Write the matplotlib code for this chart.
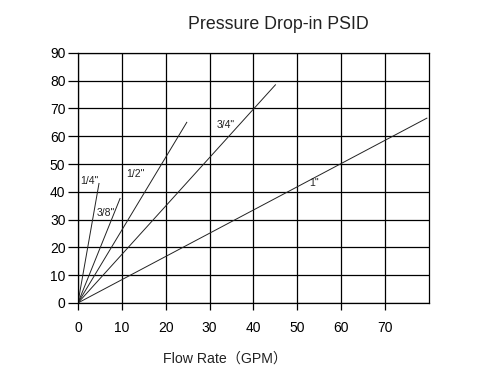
import matplotlib
matplotlib.use("Agg")
import matplotlib.pyplot as plt
import numpy as np

plt.rcParams['font.family'] = ['Liberation Sans', 'Noto Sans CJK SC', 'DejaVu Sans']

# pipe sizes, each line runs from origin to its end point
sizes = ['1/4"', '3/8"', '1/2"', '3/4"', '1"']
end_flow = [4.8, 9.6, 24.8, 45.0, 79.5]
end_psid = [43.0, 37.6, 65.0, 78.5, 66.5]
label_x = [2.5, 6.4, 13.1, 33.7, 53.9]
label_y = [44.0, 32.5, 46.5, 64.2, 43.2]

x_ticks = [0, 10, 20, 30, 40, 50, 60, 70]
y_ticks = [0, 10, 20, 30, 40, 50, 60, 70, 80, 90]

fig = plt.figure(figsize=(4.81, 3.83), dpi=100)
ax = fig.add_axes([0.162, 0.209, 0.730, 0.653])

for xe, ye in zip(end_flow, end_psid):
    ax.plot([0, xe], [0, ye], color='#222222', linewidth=0.7)

for s, lx, ly in zip(sizes, label_x, label_y):
    ax.text(lx, ly, s, fontsize=7.5, ha='center', va='center', color='#222222')

ax.set_xlim(0, 80)
ax.set_ylim(0, 90)
ax.set_xticks(x_ticks)
ax.set_yticks(y_ticks)
ax.grid(True, color='black', linewidth=0.9)
ax.set_axisbelow(True)
for sp in ax.spines.values():
    sp.set_color('black')
    sp.set_linewidth(0.9)
ax.tick_params(axis='y', length=7, width=0.9, pad=2, labelsize=10)
ax.tick_params(axis='x', length=5, width=0.9, pad=8, labelsize=10)

fig.text(0.578, 0.937, 'Pressure Drop-in PSID', fontsize=12.8, ha='center', va='center', color='#222222')
fig.text(0.468, 0.063, 'Flow Rate（GPM）', fontsize=10.2, ha='center', va='center', color='#222222')

fig.savefig('out.png', dpi=100)
